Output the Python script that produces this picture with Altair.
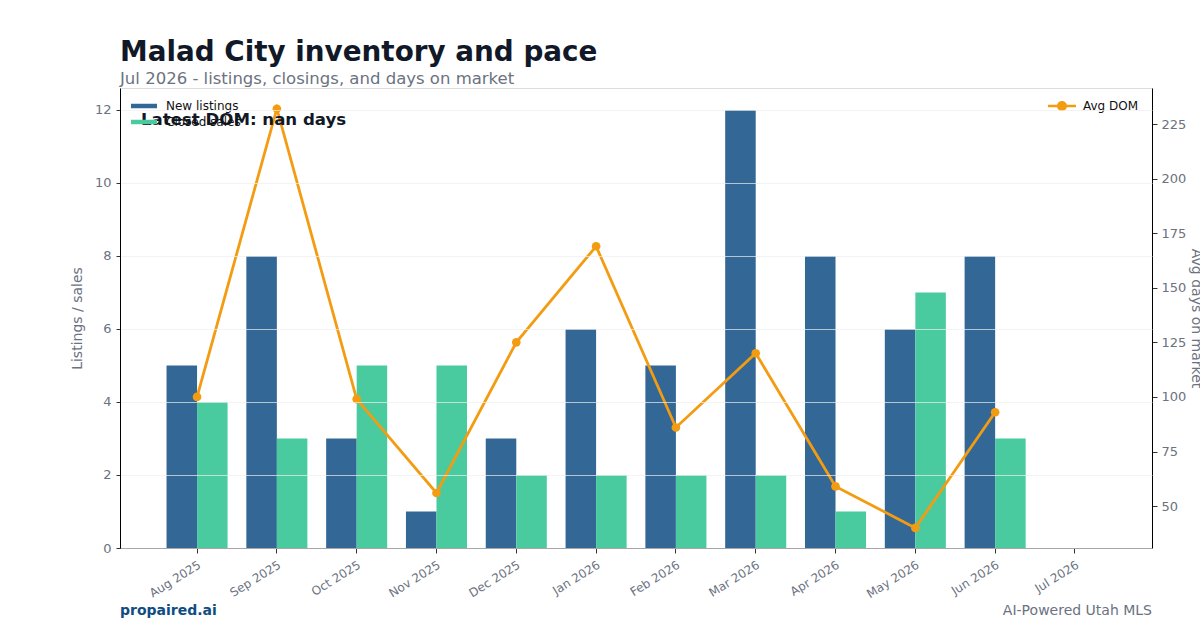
import altair as alt
import pandas as pd

months = ["Aug 2025", "Sep 2025", "Oct 2025", "Nov 2025", "Dec 2025", "Jan 2026",
          "Feb 2026", "Mar 2026", "Apr 2026", "May 2026", "Jun 2026", "Jul 2026"]
new_listings = [5, 8, 3, 1, 3, 6, 5, 12, 8, 6, 8, 0]
closed_sales = [4, 3, 5, 5, 2, 2, 2, 2, 1, 7, 3, 0]
avg_dom = [100, 232, 99, 56, 125, 169, 86, 120, 59, 40, 93, None]

series_names = ["New listings", "Closed sales"]
bar_colors = ["#336896", "#4ACB9F"]
line_color = "#F39C12"
FONT = "DejaVu Sans"
GRAY = "#6b7280"

bars_df = pd.DataFrame(
    [{"month": m, "series": series_names[0], "value": v} for m, v in zip(months, new_listings)]
    + [{"month": m, "series": series_names[1], "value": v} for m, v in zip(months, closed_sales)]
)
line_df = pd.DataFrame({"month": months, "dom": avg_dom}).dropna()

x_enc = alt.X(
    "month:N", sort=months, title=None,
    scale=alt.Scale(domain=months, paddingInner=0.235, paddingOuter=0.583),
    axis=alt.Axis(labelAngle=-32, labelAlign="right", labelBaseline="top",
                  labelColor=GRAY, labelFontSize=12, labelFont=FONT, labelPadding=6,
                  tickSize=5, tickColor="#333", domainColor="black",
                  bandPosition=0.5, grid=False),
)

bars = alt.Chart(bars_df).mark_bar().encode(
    x=x_enc,
    xOffset=alt.XOffset("series:N", sort=series_names,
                        scale=alt.Scale(domain=series_names, paddingInner=0, paddingOuter=0)),
    y=alt.Y("value:Q", scale=alt.Scale(domain=[0, 12.6], nice=False),
            axis=alt.Axis(title="Listings / sales", values=[0, 2, 4, 6, 8, 10, 12],
                          grid=True, gridColor="#eeeeee", gridOpacity=0.7, zindex=1,
                          labelColor=GRAY, labelFontSize=13, labelFont=FONT,
                          titleColor=GRAY, titleFontSize=14, titleFont=FONT,
                          titleFontWeight="normal", titlePadding=10,
                          tickSize=4, tickColor="#333", labelPadding=5,
                          domainColor="black")),
    color=alt.Color("series:N", sort=series_names,
                    scale=alt.Scale(domain=series_names, range=bar_colors),
                    legend=alt.Legend(title=None, orient="none", legendX=14, legendY=8,
                                      symbolType="M-1.3,-0.225L1.3,-0.225L1.3,0.225L-1.3,0.225Z",
                                      symbolSize=400, symbolStrokeWidth=0,
                                      labelFontSize=12, labelFont=FONT, labelColor="#111",
                                      labelOffset=12, rowPadding=0, padding=0)),
)

line = alt.Chart(line_df).mark_line(
    strokeWidth=2.8, point=alt.OverlayMarkDef(filled=True, size=75)
).encode(
    x=alt.X("month:N", sort=months),
    y=alt.Y("dom:Q", scale=alt.Scale(domain=[30.8, 241.5], nice=False),
            axis=alt.Axis(orient="right", title="Avg days on market",
                          values=[50, 75, 100, 125, 150, 175, 200, 225], grid=False,
                          labelColor=GRAY, labelFontSize=13, labelFont=FONT,
                          titleColor=GRAY, titleFontSize=14, titleFont=FONT,
                          titleFontWeight="normal", titlePadding=3,
                          tickSize=5, tickColor="#333", labelPadding=4,
                          domainColor="black")),
    color=alt.Color("series:N", scale=alt.Scale(domain=["Avg DOM"], range=[line_color]),
                    legend=alt.Legend(title=None, orient="none", legendX=932, legendY=8,
                                      symbolType="M-1.4,-0.13L1.4,-0.13L1.4,0.13L-1.4,0.13Z"
                                                 "M0.5,0A0.5,0.5 0 1,1 -0.5,0A0.5,0.5 0 1,1 0.5,0Z",
                                      symbolSize=400, symbolStrokeWidth=0,
                                      symbolFillColor=line_color,
                                      labelFontSize=12, labelFont=FONT, labelColor="#111",
                                      labelOffset=11, padding=0)),
).transform_calculate(series="'Avg DOM'")

note = alt.Chart(pd.DataFrame({"t": ["Latest DOM: nan days"]})).mark_text(
    align="left", baseline="middle", fontSize=16.6, fontWeight="bold", font=FONT,
    color="#111827"
).encode(x=alt.value(21), y=alt.value(32), text="t:N")

foot_l = alt.Chart(pd.DataFrame({"t": ["propaired.ai"]})).mark_text(
    align="left", baseline="middle", fontSize=14, fontWeight="bold", font=FONT,
    color="#0f4c81"
).encode(x=alt.value(0), y=alt.value(523), text="t:N")

foot_r = alt.Chart(pd.DataFrame({"t": ["AI-Powered Utah MLS"]})).mark_text(
    align="right", baseline="middle", fontSize=14, font=FONT, color=GRAY
).encode(x=alt.value(1032), y=alt.value(523), text="t:N")

chart = alt.layer(bars, line, note, foot_l, foot_r).resolve_scale(
    y="independent", color="independent"
).properties(
    width=1032, height=460,
    title=alt.TitleParams(
        text="Malad City inventory and pace",
        subtitle="Jul 2026 - listings, closings, and days on market",
        anchor="start", frame="group", fontSize=27.8, fontWeight="bold", font=FONT,
        color="#111827", subtitleFontSize=16.5, subtitleFont=FONT, subtitleColor=GRAY,
        subtitlePadding=4, offset=1,
    ),
    autosize=alt.AutoSizeParams(type="none"),
    padding={"left": 120, "top": 88, "right": 48, "bottom": 82},
).configure_view(stroke="black", strokeWidth=1).configure(background="white")

chart.save("out.html", embed_options={"renderer": "svg", "actions": False})
